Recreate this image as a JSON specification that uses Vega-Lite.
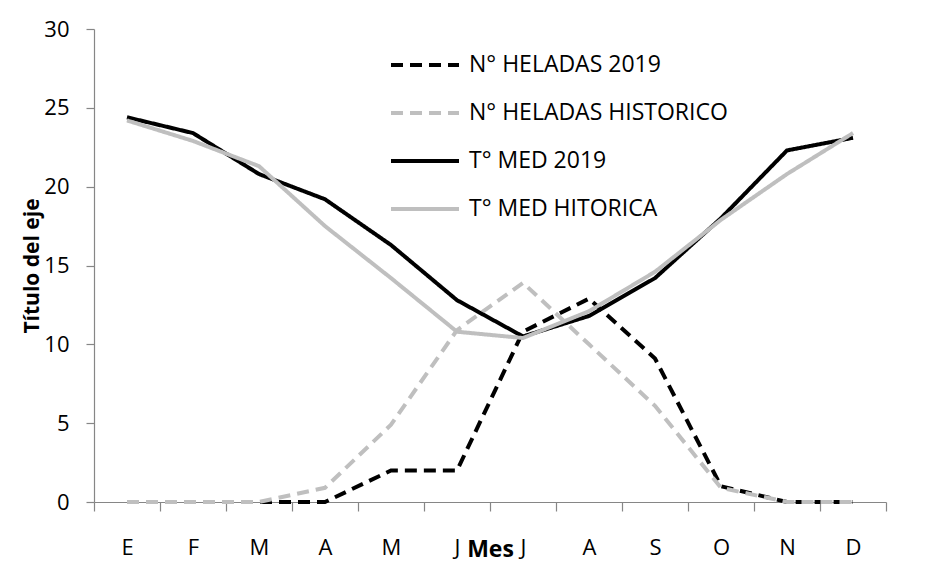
{
  "$schema": "https://vega.github.io/schema/vega-lite/v6.json",
  "width": 792,
  "height": 473,
  "autosize": {"type": "none"},
  "padding": {"left": 94, "top": 29, "right": 52, "bottom": 60},
  "background": "white",
  "config": {
    "view": {"stroke": null},
    "font": "Open Sans",
    "text": {"font": "Open Sans"}
  },
  "data": {
    "values": [
      {"mes": "E1", "serie": "N° HELADAS 2019", "valor": 0},
      {"mes": "F1", "serie": "N° HELADAS 2019", "valor": 0},
      {"mes": "M1", "serie": "N° HELADAS 2019", "valor": 0},
      {"mes": "A1", "serie": "N° HELADAS 2019", "valor": 0},
      {"mes": "M2", "serie": "N° HELADAS 2019", "valor": 2},
      {"mes": "J1", "serie": "N° HELADAS 2019", "valor": 2},
      {"mes": "J2", "serie": "N° HELADAS 2019", "valor": 10.8},
      {"mes": "A2", "serie": "N° HELADAS 2019", "valor": 12.9},
      {"mes": "S1", "serie": "N° HELADAS 2019", "valor": 9.1},
      {"mes": "O1", "serie": "N° HELADAS 2019", "valor": 1},
      {"mes": "N1", "serie": "N° HELADAS 2019", "valor": 0},
      {"mes": "D1", "serie": "N° HELADAS 2019", "valor": 0},
      {"mes": "E1", "serie": "N° HELADAS HISTORICO", "valor": 0},
      {"mes": "F1", "serie": "N° HELADAS HISTORICO", "valor": 0},
      {"mes": "M1", "serie": "N° HELADAS HISTORICO", "valor": 0},
      {"mes": "A1", "serie": "N° HELADAS HISTORICO", "valor": 0.9},
      {"mes": "M2", "serie": "N° HELADAS HISTORICO", "valor": 4.9},
      {"mes": "J1", "serie": "N° HELADAS HISTORICO", "valor": 10.9},
      {"mes": "J2", "serie": "N° HELADAS HISTORICO", "valor": 13.9},
      {"mes": "A2", "serie": "N° HELADAS HISTORICO", "valor": 10},
      {"mes": "S1", "serie": "N° HELADAS HISTORICO", "valor": 6.1},
      {"mes": "O1", "serie": "N° HELADAS HISTORICO", "valor": 0.9},
      {"mes": "N1", "serie": "N° HELADAS HISTORICO", "valor": 0},
      {"mes": "D1", "serie": "N° HELADAS HISTORICO", "valor": 0},
      {"mes": "E1", "serie": "T° MED 2019", "valor": 24.4},
      {"mes": "F1", "serie": "T° MED 2019", "valor": 23.4},
      {"mes": "M1", "serie": "T° MED 2019", "valor": 20.8},
      {"mes": "A1", "serie": "T° MED 2019", "valor": 19.2},
      {"mes": "M2", "serie": "T° MED 2019", "valor": 16.3},
      {"mes": "J1", "serie": "T° MED 2019", "valor": 12.8},
      {"mes": "J2", "serie": "T° MED 2019", "valor": 10.5},
      {"mes": "A2", "serie": "T° MED 2019", "valor": 11.8},
      {"mes": "S1", "serie": "T° MED 2019", "valor": 14.2},
      {"mes": "O1", "serie": "T° MED 2019", "valor": 18},
      {"mes": "N1", "serie": "T° MED 2019", "valor": 22.3},
      {"mes": "D1", "serie": "T° MED 2019", "valor": 23.1},
      {"mes": "E1", "serie": "T° MED HITORICA", "valor": 24.2},
      {"mes": "F1", "serie": "T° MED HITORICA", "valor": 22.9},
      {"mes": "M1", "serie": "T° MED HITORICA", "valor": 21.3},
      {"mes": "A1", "serie": "T° MED HITORICA", "valor": 17.5},
      {"mes": "M2", "serie": "T° MED HITORICA", "valor": 14.2},
      {"mes": "J1", "serie": "T° MED HITORICA", "valor": 10.8},
      {"mes": "J2", "serie": "T° MED HITORICA", "valor": 10.4},
      {"mes": "A2", "serie": "T° MED HITORICA", "valor": 12.1},
      {"mes": "S1", "serie": "T° MED HITORICA", "valor": 14.6},
      {"mes": "O1", "serie": "T° MED HITORICA", "valor": 17.9},
      {"mes": "N1", "serie": "T° MED HITORICA", "valor": 20.8},
      {"mes": "D1", "serie": "T° MED HITORICA", "valor": 23.4}
    ]
  },
  "mark": {"type": "line", "strokeWidth": 4},
  "encoding": {
    "x": {
      "field": "mes",
      "type": "ordinal",
      "sort": ["E1","F1","M1","A1","M2","J1","J2","A2","S1","O1","N1","D1"],
      "scale": {"type": "band", "paddingInner": 0, "paddingOuter": 0},
      "axis": {
        "title": "Mes",
        "titleFont": "Open Sans",
        "titleFontSize": 23,
        "titleFontWeight": "bold",
        "titleColor": "#000000",
        "titleBaseline": "alphabetic",
        "titleY": 54,
        "labelExpr": "slice(datum.label, 0, 1)",
        "labelAngle": 0,
        "labelFont": "Open Sans",
        "labelFontSize": 22,
        "labelColor": "#000000",
        "labelBaseline": "alphabetic",
        "labelPadding": 43,
        "tickBand": "extent",
        "tickSize": 9,
        "tickColor": "#868686",
        "tickWidth": 1.2,
        "domainColor": "#868686",
        "domainWidth": 1.2,
        "grid": false
      }
    },
    "y": {
      "field": "valor",
      "type": "quantitative",
      "scale": {"domain": [0, 30], "nice": false, "zero": true},
      "axis": {
        "title": "Título del eje",
        "titleFont": "Open Sans",
        "titleFontSize": 21,
        "titleFontWeight": "bold",
        "titleColor": "#000000",
        "titleBaseline": "alphabetic",
        "titleX": -56,
        "values": [0, 5, 10, 15, 20, 25, 30],
        "labelFont": "Open Sans",
        "labelFontSize": 22,
        "labelColor": "#000000",
        "labelPadding": 17,
        "tickSize": 8,
        "tickColor": "#868686",
        "tickWidth": 1.2,
        "domainColor": "#868686",
        "domainWidth": 1.2,
        "grid": false
      }
    },
    "color": {
      "field": "serie",
      "type": "nominal",
      "scale": {
        "domain": ["N° HELADAS 2019", "N° HELADAS HISTORICO", "T° MED 2019", "T° MED HITORICA"],
        "range": ["#000000", "#BFBFBF", "#000000", "#BFBFBF"]
      },
      "legend": {
        "title": null,
        "orient": "none",
        "legendX": 295,
        "legendY": 0,
        "symbolType": "stroke",
        "symbolSize": 4624,
        "symbolStrokeWidth": 4,
        "labelFont": "Open Sans",
        "labelFontSize": 23,
        "labelColor": "#000000",
        "labelOffset": 8,
        "rowPadding": -6,
        "labelLimit": 400
      }
    },
    "strokeDash": {
      "field": "serie",
      "type": "nominal",
      "scale": {
        "domain": ["N° HELADAS 2019", "N° HELADAS HISTORICO", "T° MED 2019", "T° MED HITORICA"],
        "range": [[12, 7], [12, 7], [1, 0], [1, 0]]
      },
      "legend": {
        "title": null,
        "orient": "none",
        "legendX": 295,
        "legendY": 0,
        "symbolType": "stroke",
        "symbolSize": 4624,
        "symbolStrokeWidth": 4,
        "labelFont": "Open Sans",
        "labelFontSize": 23,
        "labelColor": "#000000",
        "labelOffset": 8,
        "rowPadding": -6,
        "labelLimit": 400
      }
    }
  }
}
